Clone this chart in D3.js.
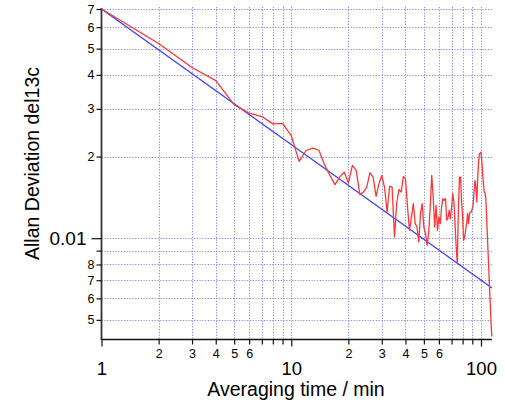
<!DOCTYPE html>
<html><head><meta charset="utf-8">
<script src="https://cdn.jsdelivr.net/npm/d3@7"></script>
<style>body{margin:0;background:#fff}svg{display:block}text{font-family:Arial,"Liberation Sans",sans-serif;fill:#000}</style>
</head><body><svg id="c" width="505" height="404"></svg>
<script>
const tau = [1,2,3,4,5,6,7,8,9,10,11,12,13,14,15,16,17,18,19,20,21,22,23,24,25,26,27,28,29,30,
31,32,33,34,35,36,37,38,39,40,41,42,43,44,45,46,47,48,49,50,51,52,53,54,55,56,57,58,59,60,
61,62,63,64,65,66,67,68,69,70,71,72,73,74,75,76,77,78,79,80,81,82,83,84,85,86,87,88,89,90,
91,92,93,94,95,96,97,98,99,100,101,102,103,104,105,106,107,108,109,110,111,112,113,114];
const adev = [0.0700,0.0522,0.0426,0.0381,0.0311,0.0289,0.0281,0.0264,0.0265,0.0239,
0.0192,0.0211,0.0215,0.0211,0.0186,0.01704,0.01576,0.01680,0.01753,0.01597,
0.01855,0.01778,0.01448,0.01480,0.01544,0.01744,0.01680,0.01427,0.01589,0.01704,
0.01544,0.01249,0.01557,0.01544,0.01011,0.01360,0.01514,0.01480,0.01690,0.01657,
0.01303,0.01070,0.01198,0.01342,0.01132,0.01100,0.00969,0.01232,0.01342,0.01100,
0.01041,0.00943,0.01041,0.01303,0.01704,0.01419,0.01100,0.01322,0.01070,0.01198,
0.01132,0.01303,0.01400,0.01380,0.01400,0.01165,0.01185,0.01268,0.01181,0.01303,
0.01460,0.01360,0.01132,0.00929,0.00807,0.01268,0.01680,0.01680,0.01380,0.01198,
0.00983,0.01011,0.01070,0.01132,0.01232,0.01132,0.01232,0.01249,0.01249,0.01286,
0.01342,0.01501,0.01634,0.01544,0.01360,0.01634,0.01882,0.02049,0.02049,0.02076,
0.01935,0.01730,0.01590,0.01480,0.01476,0.01403,0.01215,0.01034,0.00881,0.00763,
0.00650,0.00562,0.00487,0.00434];
const fitTau = [1, 114.3];
const fitAdev = [0.0700, 0.00655];
const xTicks = [1,2,3,4,5,6,7,8,9,10,20,30,40,50,60,70,80,90,100];
const xTickLabels = ["1","2","3","4","5","6","","","","10","2","3","4","5","6","","","","100"];
const xMajor = [1,10,100];
const yTicks = [0.005,0.006,0.007,0.008,0.009,0.01,0.02,0.03,0.04,0.05,0.06,0.07];
const yTickLabels = ["5","6","7","8","","0.01","2","3","4","5","6","7"];
const yMajor = [0.01];
const xTitle = "Averaging time / min";
const yTitle = "Allan Deviation del13c";

const svg = d3.select("#c");
const x = d3.scaleLog().domain([1, 114.3]).range([101.5, 492]);
const y = d3.scaleLog().domain([0.00425, 0.07]).range([339, 9]);
const X0 = 101.5, Y0 = 339.5, X1 = 492, YT = 9;

// grid
const grid = svg.append("g").attr("stroke", "#6f6fff").attr("stroke-width", 1)
  .attr("stroke-dasharray", "1.2,1.6").attr("opacity", 0.85);
grid.selectAll(".gx").data(xTicks.filter(d => d > 1)).join("line")
  .attr("x1", d => Math.round(x(d)) + 0.5).attr("x2", d => Math.round(x(d)) + 0.5)
  .attr("y1", YT - 2).attr("y2", Y0);
grid.selectAll(".gy").data(yTicks).join("line")
  .attr("y1", d => Math.round(y(d)) + 0.5).attr("y2", d => Math.round(y(d)) + 0.5)
  .attr("x1", X0).attr("x2", X1);

// x axis
const xAxis = d3.axisBottom(x).tickValues(xTicks).tickSizeOuter(0)
  .tickSize(4).tickFormat((d, i) => xTickLabels[i]);
const gx = svg.append("g").attr("transform", `translate(0,${Y0})`).call(xAxis);
gx.select(".domain").attr("stroke", "#111").attr("stroke-width", 1.3).attr("d", `M${X0},0H${X1}`);
gx.selectAll(".tick line").attr("stroke", "#111").attr("stroke-width", 1.2)
  .attr("y2", d => xMajor.includes(d) ? 7 : 5);
gx.selectAll(".tick text").attr("font-family", "Arial, 'Liberation Sans', sans-serif")
  .attr("font-size", d => xMajor.includes(d) ? 18.5 : 12.5)
  .attr("dy", null).attr("y", d => xMajor.includes(d) ? 35 : 18);

// y axis
const yAxis = d3.axisLeft(y).tickValues(yTicks).tickSizeOuter(0)
  .tickSize(5).tickFormat((d, i) => yTickLabels[i]);
const gy = svg.append("g").attr("transform", `translate(${X0},0)`).call(yAxis);
gy.select(".domain").attr("stroke", "#333").attr("stroke-width", 1.8).attr("d", `M0,${YT - 1}V${Y0 + 0.5}`);
gy.selectAll(".tick line").attr("stroke", "#111").attr("stroke-width", 1.2)
  .attr("x2", d => yMajor.includes(d) ? -10 : -5);
gy.selectAll(".tick text").attr("font-family", "Arial, 'Liberation Sans', sans-serif")
  .attr("font-size", d => yMajor.includes(d) ? 19 : 12.5)
  .attr("x", d => yMajor.includes(d) ? -15 : -7);

// lines
const line = d3.line().x(d => x(d[0])).y(d => y(d[1]));
svg.append("path").datum(fitTau.map((t, i) => [t, fitAdev[i]]))
  .attr("d", line).attr("fill", "none").attr("stroke", "#3a3aff").attr("stroke-width", 1.2);
svg.append("path").datum(tau.map((t, i) => [t, adev[i]]))
  .attr("d", line).attr("fill", "none").attr("stroke", "#ff3535").attr("stroke-width", 1.3)
  .attr("stroke-linejoin", "round");

// titles
svg.append("text").attr("x", 296).attr("y", 396).attr("text-anchor", "middle")
  .attr("font-size", 19.5).text(xTitle);
svg.append("text").attr("transform", "translate(39,163.5) rotate(-90)").attr("text-anchor", "middle")
  .attr("font-size", 19.5).text(yTitle);
</script></body></html>
